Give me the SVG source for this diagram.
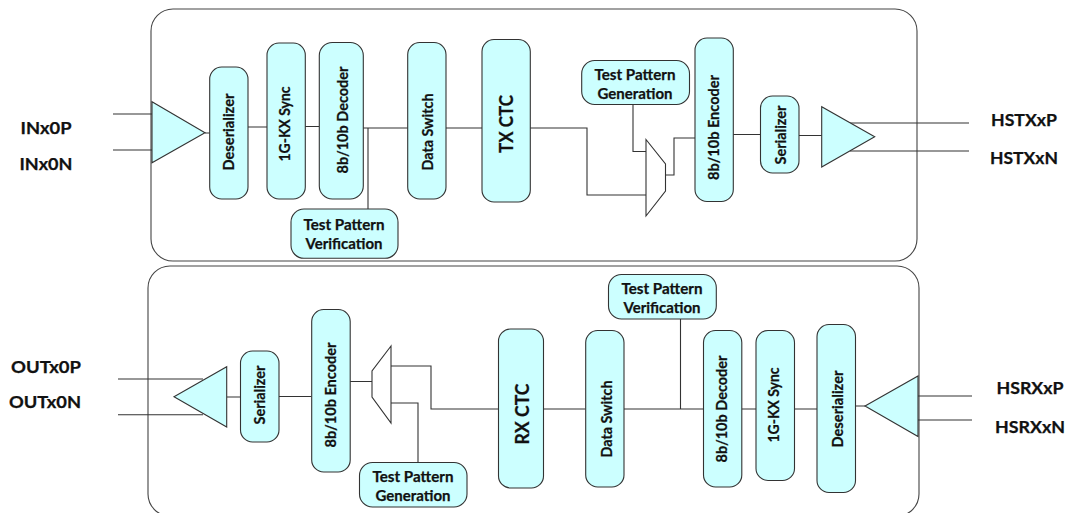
<svg xmlns="http://www.w3.org/2000/svg" width="1065" height="513" viewBox="0 0 1065 513">
<style>
text{font-family:"Lato","Noto Sans","Liberation Sans",sans-serif;font-weight:700;fill:#111;stroke:#111;stroke-width:.25;text-anchor:middle}
.f{font-size:14.500px}.b{font-size:18.500px}.p{font-size:17px}
.n{fill:#ccffff;stroke:#333;stroke-width:1.1}
.o{fill:none;stroke:#444;stroke-width:1.1}
.m{fill:#fff;stroke:#333;stroke-width:1.1}
#connectors path{fill:none;stroke:#333;stroke-width:1.1}
</style>
<rect class="o" x="151" y="9" width="766" height="252" rx="22"/>
<rect class="o" x="148" y="266" width="771" height="250" rx="22"/>
<g id="connectors">
<path d="M113 114H152M113 150H152M205 133H210M248 127H267M305 126.500H319M363 128H408M446 128H482M368 128V209"/>
<path d="M530 128H587V195H646M633 104.500V151.500H646M665 175H674V138H695M733 134.500H760.500M799 135.500H822M850 123H969M850 151H969"/>
<path d="M118 379H203M118 414.700H203M227 397H240.500M279 396.500H311.500M350 381.500H372M391 366H431V409H498M391 403H418V462.500"/>
<path d="M543.500 409H585.500M624 409H703.500M680.500 319V409M741.500 409H756M794.500 409H817M855.500 406H865M918 396H972M918 420H972"/>
</g>
<g id="amp-in"><polygon class="n" points="152,101.700 152,162.700 205,132.700"/></g>
<g id="deserializer-tx"><rect class="n" x="209.700" y="67" width="38.300" height="132" rx="12"/><text class="f" transform="translate(234 132) rotate(-90)" textLength="77" lengthAdjust="spacingAndGlyphs">Deserializer</text></g>
<g id="sync-tx"><rect class="n" x="267" y="43" width="38.300" height="156" rx="12"/><text class="f" transform="translate(290 124) rotate(-90)" textLength="75" lengthAdjust="spacingAndGlyphs">1G-KX Sync</text></g>
<g id="decoder-tx"><rect class="n" x="319.300" y="42.500" width="44" height="156.500" rx="13"/><text class="f" transform="translate(348.300 120) rotate(-90)" textLength="107" lengthAdjust="spacingAndGlyphs">8b/10b Decoder</text></g>
<g id="switch-tx"><rect class="n" x="407.700" y="42.500" width="38.300" height="156.500" rx="12"/><text class="f" transform="translate(433 132) rotate(-90)" textLength="77" lengthAdjust="spacingAndGlyphs">Data Switch</text></g>
<g id="ctc-tx"><rect class="n" x="482" y="39.500" width="48.300" height="162.500" rx="12"/><text class="b" transform="translate(512.700 124) rotate(-90)" textLength="58" lengthAdjust="spacingAndGlyphs">TX CTC</text></g>
<g id="verify-tx"><rect class="n" x="291" y="209" width="107" height="49.300" rx="13"/><text class="f" x="344" y="230" textLength="81" lengthAdjust="spacingAndGlyphs">Test Pattern</text><text class="f" x="344" y="248.700" textLength="77" lengthAdjust="spacingAndGlyphs">Verification</text></g>
<g id="generate-tx"><rect class="n" x="581.700" y="60.500" width="107.800" height="44" rx="13"/><text class="f" x="635" y="80" textLength="81" lengthAdjust="spacingAndGlyphs">Test Pattern</text><text class="f" x="635" y="99" textLength="75" lengthAdjust="spacingAndGlyphs">Generation</text></g>
<g id="mux-tx"><polygon class="m" points="646,139.500 665.500,164 665.500,191 646,216"/></g>
<g id="encoder-tx"><rect class="n" x="695" y="38" width="38.300" height="163.500" rx="12"/><text class="f" transform="translate(719 127.500) rotate(-90)" textLength="105" lengthAdjust="spacingAndGlyphs">8b/10b Encoder</text></g>
<g id="serializer-tx"><rect class="n" x="760.500" y="96" width="38.500" height="77" rx="12"/><text class="f" transform="translate(785.500 135) rotate(-90)" textLength="59" lengthAdjust="spacingAndGlyphs">Serializer</text></g>
<g id="amp-tx"><polygon class="n" points="821.700,106.700 821.700,167 874.700,136.700"/></g>
<g id="amp-out"><polygon class="n" points="226.700,366.700 226.700,427 174,396.700"/></g>
<g id="serializer-rx"><rect class="n" x="240.500" y="351" width="38.500" height="91" rx="12"/><text class="f" transform="translate(265 395) rotate(-90)" textLength="59" lengthAdjust="spacingAndGlyphs">Serializer</text></g>
<g id="encoder-rx"><rect class="n" x="311.700" y="309.500" width="38.500" height="162.500" rx="12"/><text class="f" transform="translate(336 395) rotate(-90)" textLength="105" lengthAdjust="spacingAndGlyphs">8b/10b Encoder</text></g>
<g id="mux-rx"><polygon class="m" points="391,346 372,371 372,397 391,423"/></g>
<g id="generate-rx"><rect class="n" x="359.500" y="462.500" width="107.500" height="44.500" rx="13"/><text class="f" x="413" y="482" textLength="81" lengthAdjust="spacingAndGlyphs">Test Pattern</text><text class="f" x="413" y="501" textLength="75" lengthAdjust="spacingAndGlyphs">Generation</text></g>
<g id="ctc-rx"><rect class="n" x="498.500" y="329" width="45" height="159" rx="12"/><text class="b" transform="translate(529 414) rotate(-90)" textLength="61" lengthAdjust="spacingAndGlyphs">RX CTC</text></g>
<g id="switch-rx"><rect class="n" x="585.700" y="330.500" width="38.300" height="156.500" rx="12"/><text class="f" transform="translate(612 419) rotate(-90)" textLength="77" lengthAdjust="spacingAndGlyphs">Data Switch</text></g>
<g id="verify-rx"><rect class="n" x="608.500" y="274.500" width="107.800" height="44.500" rx="13"/><text class="f" x="662" y="294" textLength="81" lengthAdjust="spacingAndGlyphs">Test Pattern</text><text class="f" x="662" y="313" textLength="77" lengthAdjust="spacingAndGlyphs">Verification</text></g>
<g id="decoder-rx"><rect class="n" x="703.500" y="330.500" width="38.300" height="156.500" rx="12"/><text class="f" transform="translate(727 409) rotate(-90)" textLength="107" lengthAdjust="spacingAndGlyphs">8b/10b Decoder</text></g>
<g id="sync-rx"><rect class="n" x="756" y="330.500" width="38.500" height="150" rx="12"/><text class="f" transform="translate(779 405) rotate(-90)" textLength="75" lengthAdjust="spacingAndGlyphs">1G-KX Sync</text></g>
<g id="deserializer-rx"><rect class="n" x="817" y="324.500" width="38.500" height="168" rx="12"/><text class="f" transform="translate(843 409) rotate(-90)" textLength="77" lengthAdjust="spacingAndGlyphs">Deserializer</text></g>
<g id="amp-rx"><polygon class="n" points="918,376 918,436.500 865,406"/></g>
<g id="ports">
<text class="p" x="46" y="134" textLength="51" lengthAdjust="spacingAndGlyphs">INx0P</text>
<text class="p" x="46" y="170" textLength="53" lengthAdjust="spacingAndGlyphs">INx0N</text>
<text class="p" x="46" y="373" textLength="70" lengthAdjust="spacingAndGlyphs">OUTx0P</text>
<text class="p" x="45" y="408" textLength="72" lengthAdjust="spacingAndGlyphs">OUTx0N</text>
<text class="p" x="1024" y="126" textLength="66" lengthAdjust="spacingAndGlyphs">HSTXxP</text>
<text class="p" x="1024" y="164" textLength="68" lengthAdjust="spacingAndGlyphs">HSTXxN</text>
<text class="p" x="1030" y="394" textLength="67" lengthAdjust="spacingAndGlyphs">HSRXxP</text>
<text class="p" x="1030" y="433" textLength="70" lengthAdjust="spacingAndGlyphs">HSRXxN</text>
</g>
</svg>
